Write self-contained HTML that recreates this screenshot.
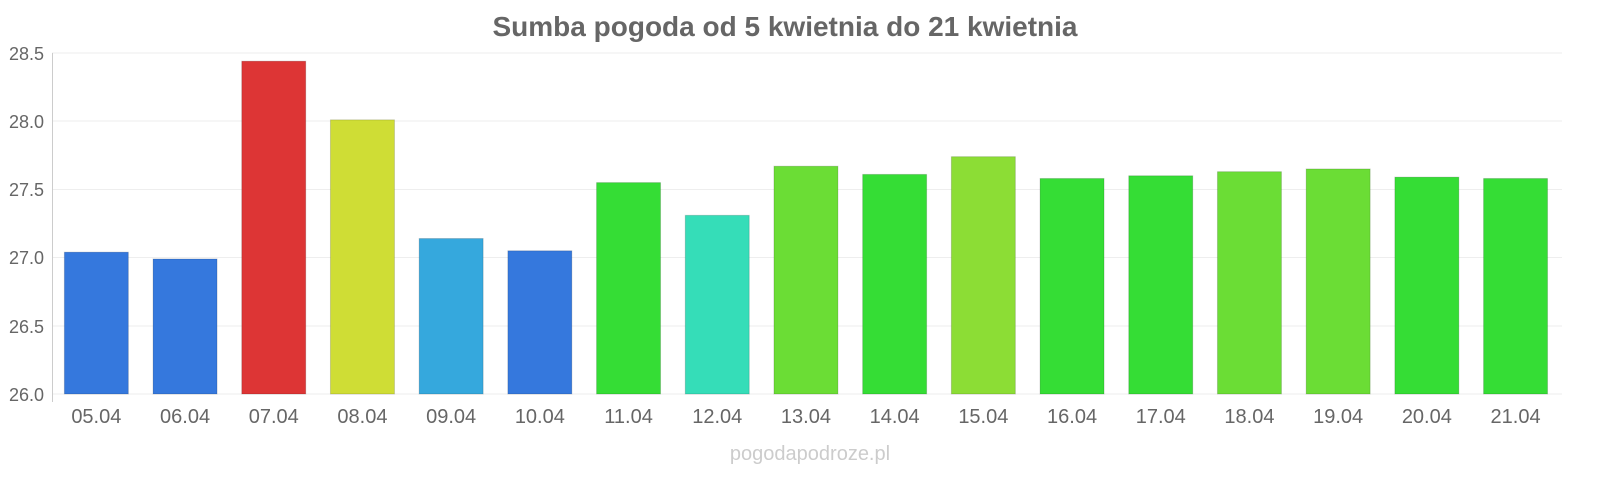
<!DOCTYPE html>
<html><head><meta charset="utf-8"><style>
body{margin:0;background:#fff;}
svg text{font-family:"Liberation Sans",sans-serif;}
</style></head><body>
<svg width="1600" height="480" xmlns="http://www.w3.org/2000/svg">
<rect width="1600" height="480" fill="#fff"/>
<text x="785" y="36" text-anchor="middle" font-size="28" font-weight="bold" fill="#666">Sumba pogoda od 5 kwietnia do 21 kwietnia</text>
<g stroke="#eee" stroke-width="1">
<line x1="52" x2="1562" y1="53" y2="53"/>
<line x1="52" x2="1562" y1="121" y2="121"/>
<line x1="52" x2="1562" y1="189.5" y2="189.5"/>
<line x1="52" x2="1562" y1="257.5" y2="257.5"/>
<line x1="52" x2="1562" y1="326" y2="326"/>
<line x1="52" x2="1562" y1="394" y2="394"/>
</g>
<line x1="52.5" x2="52.5" y1="53" y2="402" stroke="#ccc"/>
<g font-size="18" fill="#666" text-anchor="end">
<text x="44" y="60">28.5</text>
<text x="44" y="128">28.0</text>
<text x="44" y="196">27.5</text>
<text x="44" y="264">27.0</text>
<text x="44" y="333">26.5</text>
<text x="44" y="401">26.0</text>
</g>
<g id="bars"></g>
<g id="labels" font-size="20" fill="#666" text-anchor="middle"></g>
<text x="810" y="460" text-anchor="middle" font-size="20" fill="#ccc">pogodapodroze.pl</text>
<script>
var v=[27.04,26.99,28.44,28.01,27.14,27.05,27.55,27.31,27.67,27.61,27.74,27.58,27.60,27.63,27.65,27.59,27.58];
var c=["#3578dd","#3578dd","#dd3535","#cfdd35","#35a8dd","#3578dd","#35dd35","#35ddb8","#6bdd35","#35dd35","#8cdd35","#35dd35","#35dd35","#6bdd35","#6bdd35","#35dd35","#35dd35"];
var ns="http://www.w3.org/2000/svg",b=document.getElementById("bars"),l=document.getElementById("labels");
for(var i=0;i<17;i++){var cx=52+88.7*(i+0.5);var y=394-(v[i]-26)*136.4;
var r=document.createElementNS(ns,"rect");r.setAttribute("x",cx-32);r.setAttribute("y",y);r.setAttribute("width",64);r.setAttribute("height",394-y);r.setAttribute("fill",c[i]);r.setAttribute("stroke","rgba(0,0,0,0.15)");b.appendChild(r);
var t=document.createElementNS(ns,"text");t.setAttribute("x",cx);t.setAttribute("y",423);t.textContent=(i+5<10?"0":"")+(i+5)+".04";l.appendChild(t);}
</script>
</svg>
</body></html>
